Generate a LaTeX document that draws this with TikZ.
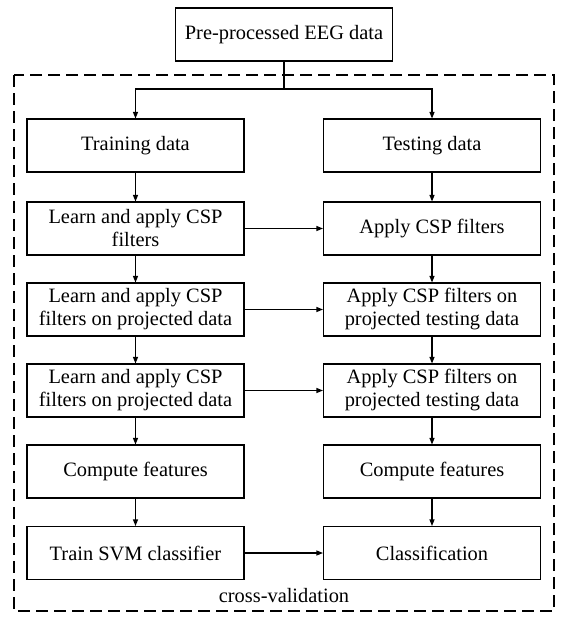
\documentclass[tikz,border=0pt]{standalone}
\usepackage{fontspec}
\setmainfont{Liberation Serif}
\usetikzlibrary{arrows.meta}
\begin{document}
\begin{tikzpicture}[x=1pt,y=-1pt,
  box/.style={draw,line width=1.1pt,minimum width=217pt,minimum height=53pt,align=center,inner sep=0pt,font=\fontsize{20.4}{23}\selectfont},
  arr/.style={-{Triangle[length=6.5pt,width=5pt]},line width=1.1pt},
  ln/.style={line width=1.1pt},
  frame/.style={dash pattern=on 12pt off 6pt,line width=1.4pt},
  lbl/.style={font=\fontsize{20.4}{23}\selectfont,inner sep=0pt}]
\useasboundingbox (0,0) rectangle (571,625);
\draw[frame] (14,75) rectangle (554,611);
\node[box] (top) at (284,34.5) {Pre-processed EEG data};
\node[box] (l1) at (135.5,145.5) {Training data};
\node[box] (r1) at (432,145.5) {Testing data};
\node[box] (l2) at (135.5,228.5) {Learn and apply CSP\\filters};
\node[box] (r2) at (432,228.5) {Apply CSP filters};
\node[box] (l3) at (135.5,309.5) {Learn and apply CSP\\filters on projected data};
\node[box] (r3) at (432,309.5) {Apply CSP filters on\\projected testing data};
\node[box] (l4) at (135.5,390.5) {Learn and apply CSP\\filters on projected data};
\node[box] (r4) at (432,390.5) {Apply CSP filters on\\projected testing data};
\node[box] (l5) at (135.5,471.5) {Compute features};
\node[box] (r5) at (432,471.5) {Compute features};
\node[box] (l6) at (135.5,553) {Train SVM classifier};
\node[box] (r6) at (432,553) {Classification};
\node[lbl] (cv) at (284,596) {cross-validation};
\coordinate (sp) at (284,89);
\draw[ln] (top.south) -- (sp);
\draw[arr] (sp) -| (l1.north);
\draw[arr] (sp) -| (r1.north);
\foreach \a/\b in {l1/l2,l2/l3,l3/l4,l4/l5,l5/l6,r1/r2,r2/r3,r3/r4,r4/r5,r5/r6}
  \draw[arr] (\a.south) -- (\b.north);
\foreach \a/\b in {l2/r2,l3/r3,l4/r4,l6/r6}
  \draw[arr] (\a.east) -- (\b.west);
\end{tikzpicture}
\end{document}
